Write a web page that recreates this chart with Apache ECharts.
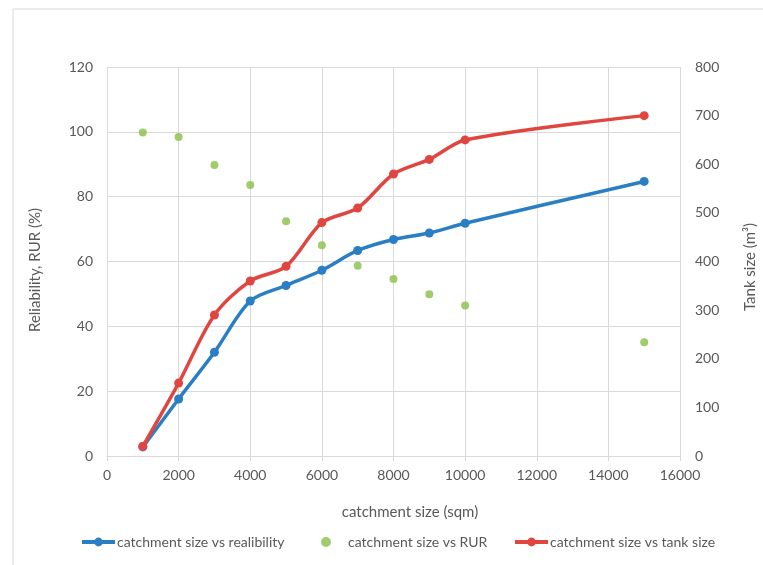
<!DOCTYPE html>
<html>
<head>
<meta charset="utf-8">
<script src="https://cdn.jsdelivr.net/npm/echarts@6/dist/echarts.min.js"></script>
<style>html,body{margin:0;padding:0;background:#fff}#c{width:763px;height:565px}</style>
</head>
<body>
<div id="c"></div>
<script>
// Data
const catchment = [1000, 2000, 3000, 4000, 5000, 6000, 7000, 8000, 9000, 10000, 15000];
const reliability = [2.8, 17.6, 32.0, 47.8, 52.6, 57.3, 63.4, 66.8, 68.8, 71.8, 84.7];
const rur = [99.8, 98.4, 89.8, 83.6, 72.4, 65.0, 58.7, 54.6, 49.9, 46.4, 35.1];
const tankSize = [20, 150, 290, 360, 390, 480, 510, 580, 610, 650, 700];
const names = ['catchment size vs realibility', 'catchment size vs RUR', 'catchment size vs tank size'];

const pair = (xs, ys) => xs.map((x, i) => [x, ys[i]]);
const FONT = 'Lato';
const GRAY = '#595959';
const GRID = '#d9d9d9';
const BLUE = '#2a7ec3', GREEN = '#8abf48', RED = '#e0463f';

const chart = echarts.init(document.getElementById('c'));
chart.setOption({
  animation: false,
  textStyle: { fontFamily: FONT, color: GRAY },
  grid: { left: 107, right: 83, top: 67, bottom: 109 },
  xAxis: {
    type: 'value', min: 0, max: 16000, interval: 2000,
    axisLine: { show: true, lineStyle: { color: GRID, width: 1 } },
    axisTick: { show: true, length: 5, lineStyle: { color: GRID } },
    axisLabel: { color: GRAY, fontSize: 14, margin: 12, fontFamily: FONT, formatter: v => String(v) },
    splitLine: { show: true, lineStyle: { color: GRID, width: 1 } }
  },
  yAxis: [
    {
      type: 'value', min: 0, max: 120, interval: 20,
      axisLine: { show: false }, axisTick: { show: false },
      axisLabel: { color: GRAY, fontSize: 14, margin: 14, fontFamily: FONT, formatter: v => String(v) },
      splitLine: { show: true, lineStyle: { color: GRID, width: 1 } }
    },
    {
      type: 'value', min: 0, max: 800, interval: 100,
      axisLine: { show: false }, axisTick: { show: false },
      axisLabel: { color: GRAY, fontSize: 14, margin: 15, fontFamily: FONT, formatter: v => String(v) },
      splitLine: { show: false }
    }
  ],
  legend: [
    { data: [names[0]], left: 80, top: 535, padding: 0, itemWidth: 33, itemHeight: 11, lineStyle: { width: 4 }, textStyle: { color: GRAY, fontSize: 14, fontFamily: FONT, padding: [0, 0, 0, -3] } },
    { data: [names[1]], left: 321, top: 535, padding: 0, itemWidth: 10, itemHeight: 10, textStyle: { color: GRAY, fontSize: 14, fontFamily: FONT, padding: [0, 0, 0, 12] } },
    { data: [names[2]], left: 513, top: 535, padding: 0, itemWidth: 33, itemHeight: 11, lineStyle: { width: 4 }, textStyle: { color: GRAY, fontSize: 14, fontFamily: FONT, padding: [0, 0, 0, -3] } }
  ],
  graphic: [
    { type: 'rect', shape: { x: 13, y: 9, width: 800, height: 600 }, style: { fill: 'none', stroke: GRID, lineWidth: 1 }, silent: true },
    { type: 'text', x: 35, y: 270, rotation: Math.PI / 2, style: { text: 'Reliability, RUR (%)', fill: GRAY, font: '15px ' + FONT, align: 'center', verticalAlign: 'middle' } },
    { type: 'text', x: 750, y: 267, rotation: Math.PI / 2, style: { text: 'Tank size (m³)', fill: GRAY, font: '15px ' + FONT, align: 'center', verticalAlign: 'middle' } },
    { type: 'text', x: 410, y: 512, style: { text: 'catchment size (sqm)', fill: GRAY, font: '15px ' + FONT, align: 'center', verticalAlign: 'middle' } }
  ],
  series: [
    {
      name: names[0], type: 'line', yAxisIndex: 0, data: pair(catchment, reliability),
      smooth: 0.3, symbol: 'circle', symbolSize: 9,
      lineStyle: { color: BLUE, width: 3.5 }, itemStyle: { color: BLUE }
    },
    {
      name: names[1], type: 'scatter', yAxisIndex: 0, data: pair(catchment, rur),
      symbol: 'circle', symbolSize: 8, itemStyle: { color: GREEN }
    },
    {
      name: names[2], type: 'line', yAxisIndex: 1, data: pair(catchment, tankSize),
      smooth: 0.3, symbol: 'circle', symbolSize: 9,
      lineStyle: { color: RED, width: 3.5 }, itemStyle: { color: RED }
    }
  ]
});
</script>
</body>
</html>
